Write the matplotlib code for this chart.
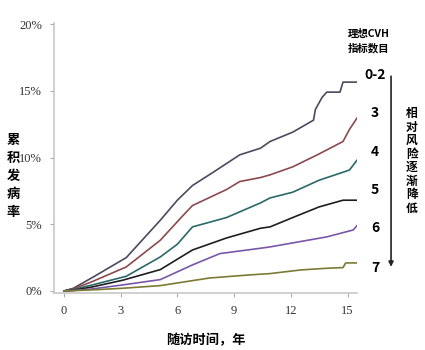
import matplotlib.pyplot as plt

plt.rcParams['font.family'] = ['Noto Sans CJK SC', 'DejaVu Sans']

# curve data (years, cumulative incidence %)
x_02 = [0, 0.5, 1.5, 3.3, 5.1, 6.0, 6.8, 7.9, 9.3, 10.4, 10.9, 12.1, 13.2, 13.3, 13.65, 13.9, 14.6, 14.76, 15.5]
y_02 = [0, 0.2, 1.0, 2.5, 5.3, 6.8, 7.9, 8.9, 10.2, 10.7, 11.2, 11.9, 12.8, 13.6, 14.5, 14.9, 14.9, 15.65, 15.65]

x_3 = [0, 0.5, 1.5, 3.3, 5.1, 6.2, 6.8, 8.6, 9.3, 10.4, 10.9, 12.1, 13.4, 14.76, 15.1, 15.5]
y_3 = [0, 0.15, 0.7, 1.8, 3.8, 5.5, 6.4, 7.6, 8.2, 8.5, 8.7, 9.3, 10.2, 11.2, 12.1, 12.96]

x_4 = [0, 0.5, 1.5, 3.3, 5.1, 6.0, 6.8, 8.6, 10.4, 10.9, 12.1, 13.5, 15.1, 15.5]
y_4 = [0, 0.1, 0.45, 1.1, 2.55, 3.5, 4.8, 5.5, 6.6, 6.97, 7.4, 8.3, 9.06, 9.8]

x_5 = [0, 0.5, 1.5, 3.1, 5.1, 6.8, 8.6, 10.4, 10.9, 12.1, 13.5, 14.76, 15.5]
y_5 = [0, 0.05, 0.3, 0.8, 1.6, 3.07, 3.97, 4.7, 4.8, 5.5, 6.3, 6.8, 6.8]

x_6 = [0, 0.5, 1.5, 3.1, 5.1, 6.8, 8.25, 10.4, 10.9, 12.1, 13.9, 15.3, 15.5]
y_6 = [0, 0.03, 0.15, 0.45, 0.85, 1.95, 2.8, 3.2, 3.3, 3.6, 4.05, 4.57, 4.9]

x_7 = [0, 1.5, 3.1, 5.1, 7.7, 9.8, 10.9, 12.5, 13.9, 14.76, 14.9, 15.5]
y_7 = [0, 0.08, 0.2, 0.4, 0.97, 1.2, 1.3, 1.57, 1.7, 1.75, 2.1, 2.1]

groups = ['0-2', '3', '4', '5', '6', '7']
colors = ['#4b4a5e', '#8a4a4e', '#2b6868', '#1e1e1e', '#7858a8', '#7c7a34']
label_y = [16.2, 13.3, 10.4, 7.6, 4.7, 1.7]

fig = plt.figure(figsize=(4.25, 3.5), dpi=100)
ax = fig.add_axes([0.128, 0.163, 0.712, 0.772])

curves = [(x_02, y_02), (x_3, y_3), (x_4, y_4), (x_5, y_5), (x_6, y_6), (x_7, y_7)]
for (xs, ys), c in zip(curves, colors):
    ax.plot(xs, ys, color=c, lw=1.2)

ax.set_xlim(-0.5, 15.5)
ax.set_ylim(-0.15, 20.1)
ax.set_xticks([0, 3, 6, 9, 12, 15])
ax.set_yticks([0, 5, 10, 15, 20])
ax.set_yticklabels(['0%', '5%', '10%', '15%', '20%'])
for lab in ax.get_xticklabels() + ax.get_yticklabels():
    lab.set_family('Liberation Serif')
    lab.set_fontsize(9)
    lab.set_color('#333333')
ax.tick_params(length=3, width=0.8, color='#aaaaaa', pad=6)
ax.spines['top'].set_visible(False)
ax.spines['right'].set_visible(False)
for s in ['left', 'bottom']:
    ax.spines[s].set_color('#c8c8c8')
    ax.spines[s].set_linewidth(1.2)

# y label, stacked characters
fig.text(13 / 425, 1 - 176 / 350, '累\n积\n发\n病\n率', ha='center', va='center',
         fontsize=9.5, fontweight='bold', linespacing=1.35)
ax.set_xlabel('随访时间，年', fontsize=9.5, fontweight='bold', labelpad=11)

# group labels at the right end of the curves
ax.text(16.1, 18.7, '理想CVH\n指标数目', ha='center', va='center', fontsize=7.5,
        fontweight='bold', linespacing=1.4, clip_on=False,
        family=['Noto Sans CJK SC', 'DejaVu Sans'])
for g, yy in zip(groups, label_y):
    ax.text(16.45, yy, g, ha='center', va='center', fontsize=10, fontweight='bold',
            clip_on=False, family=['Noto Sans CJK SC', 'DejaVu Sans'])

# arrow: relative risk decreasing
ax.annotate('', xy=(17.3, 1.6), xytext=(17.3, 16.3), annotation_clip=False,
            arrowprops=dict(arrowstyle='-|>', color='#222222', lw=1.2, mutation_scale=7))
fig.text(412 / 425, 1 - 161 / 350, '相\n对\n风\n险\n逐\n渐\n降\n低', ha='center', va='center',
         fontsize=8.5, fontweight='bold', linespacing=1.05)

fig.savefig('out.png', dpi=100)
